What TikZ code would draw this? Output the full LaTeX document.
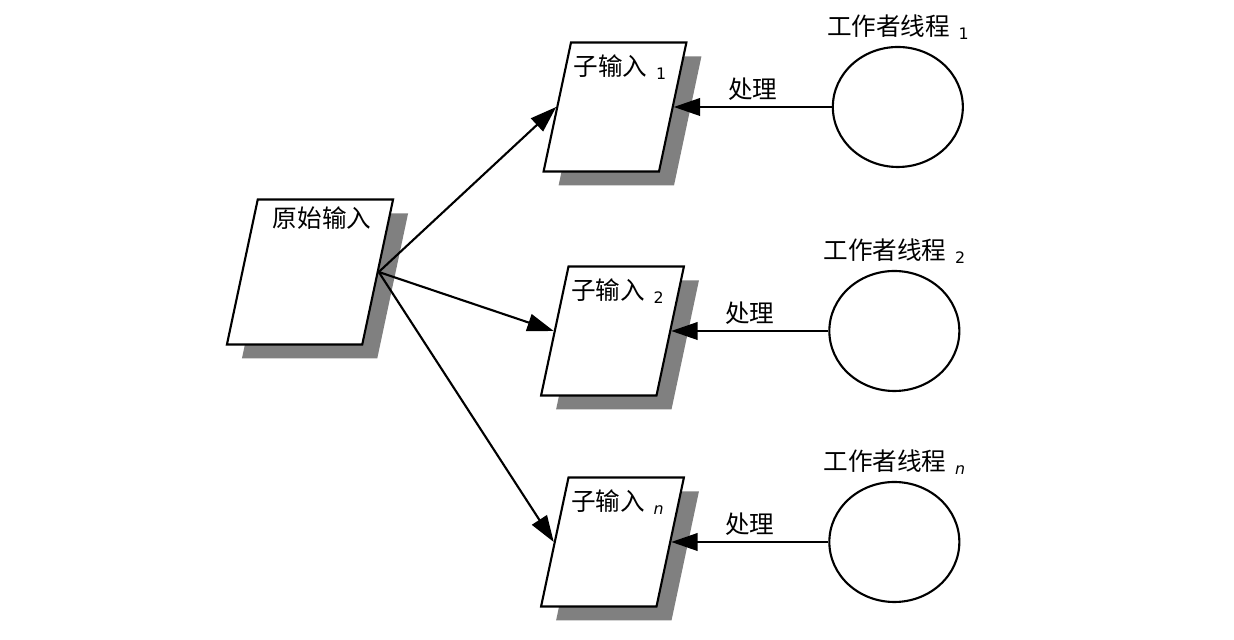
\documentclass[tikz,border=0pt]{standalone}
\usepackage{fontspec}
\setmainfont{Noto Sans CJK SC}
\newfontfamily\idxfont{DejaVu Sans}
\usetikzlibrary{positioning,arrows.meta,shapes.geometric,shadows}
\newcommand{\idx}[1]{\hspace{0.35em}\raisebox{-0.3ex}{\idxfont\fontsize{9}{9}\selectfont #1}}

\begin{document}
\begin{tikzpicture}[
    font=\fontsize{14}{16}\selectfont,
    inbox/.style={trapezium, draw, line width=1.2pt, fill=white,
                  trapezium left angle=78, trapezium right angle=102,
                  inner sep=0pt, text depth=0pt,
                  drop shadow={shadow xshift=0.3cm, shadow yshift=-0.28cm,
                               fill=black!50, opacity=1}},
    orig/.style={inbox, text width=2.09cm, text height=2.9cm},
    part/.style={inbox, text width=1.76cm, text height=2.58cm},
    worker/.style={ellipse, draw, line width=1.2pt, minimum width=2.6cm,
                   minimum height=2.4cm, inner sep=0pt},
    arrow/.style={-{Triangle[length=15pt, width=10pt]}, line width=1.2pt}
  ]
  \useasboundingbox (-6.2,-7.36) rectangle (18.48,5.44);

  % ----- Inputs -----
  \node[orig] (raw) at (0,0)
    [label={[anchor=north, xshift=0.24cm, yshift=-0.05cm]north:原始输入}] {};
  \node[part] (sub1) at (6.1,3.3)
    [label={[anchor=north, xshift=0.1cm, yshift=-0.14cm]north:子输入\idx{1}}] {};
  \node[part] (sub2) at (6.05,-1.18)
    [label={[anchor=north, xshift=0.1cm, yshift=-0.14cm]north:子输入\idx{2}}] {};
  \node[part] (subn) at (6.05,-5.4)
    [label={[anchor=north, xshift=0.1cm, yshift=-0.14cm]north:子输入\idx{\itshape n}}] {};

  % ----- Worker threads -----
  \node[worker, right=3.16cm of sub1] (thr1) [label={above:工作者线程\idx{1}}] {};
  \node[worker, right=3.14cm of sub2] (thr2) [label={above:工作者线程\idx{2}}] {};
  \node[worker, right=3.14cm of subn] (thrn) [label={above:工作者线程\idx{\itshape n}}] {};

  % ----- Split -----
  \draw[arrow] (raw.east) -- (sub1.west);
  \draw[arrow] (raw.east) -- (sub2.west);
  \draw[arrow] (raw.east) -- (subn.west);

  % ----- Processing -----
  \draw[arrow] (thr1.west) -- node[above] {处理} (sub1.east);
  \draw[arrow] (thr2.west) -- node[above] {处理} (sub2.east);
  \draw[arrow] (thrn.west) -- node[above] {处理} (subn.east);
\end{tikzpicture}
\end{document}
